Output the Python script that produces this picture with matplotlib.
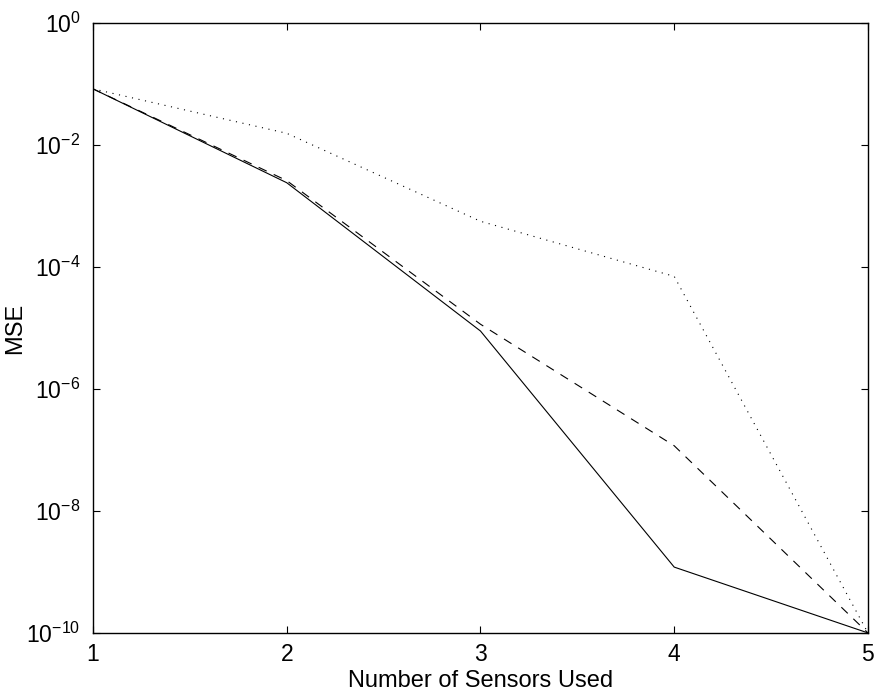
"""MSE versus number of sensors used (log scale)."""

import matplotlib

matplotlib.use("Agg")
import matplotlib.pyplot as plt

sensors = [1, 2, 3, 4, 5]
mse_solid = [8.3e-2, 2.4e-3, 8.9e-6, 1.2e-9, 1e-10]
mse_dashed = [8.3e-2, 2.6e-3, 1.15e-5, 1.17e-7, 1e-10]
mse_dotted = [8.3e-2, 1.55e-2, 5.6e-4, 7.0e-5, 1e-10]

y_ticks = [1e0, 1e-2, 1e-4, 1e-6, 1e-8, 1e-10]
y_tick_labels = [r"$10^{0}$", r"$10^{-2}$", r"$10^{-4}$", r"$10^{-6}$", r"$10^{-8}$", r"$10^{-10}$"]

plt.rcParams["font.family"] = ["Liberation Sans", "DejaVu Sans"]
plt.rcParams["mathtext.fontset"] = "custom"
plt.rcParams["mathtext.rm"] = "Liberation Sans"
plt.rcParams["mathtext.it"] = "Liberation Sans"
plt.rcParams["mathtext.default"] = "regular"

fig = plt.figure(figsize=(8.77, 6.94), dpi=100)
ax = fig.add_axes([0.106, 0.088, 0.8837, 0.879])

ax.semilogy(sensors, mse_solid, color="black", linewidth=0.8, linestyle="-")
ax.semilogy(sensors, mse_dashed, color="black", linewidth=0.8, linestyle=(0, (8, 7)))
ax.semilogy(sensors, mse_dotted, color="black", linewidth=0.8, linestyle=(0, (1, 5)))

ax.set_xlim(1, 5)
ax.set_ylim(1e-10, 1e0)
ax.set_xticks(sensors)
ax.set_xticklabels([str(s) for s in sensors])
ax.set_yticks(y_ticks)
ax.set_yticklabels(y_tick_labels)
ax.minorticks_off()

ax.tick_params(direction="in", length=5, width=0.8, top=True, right=True, labelsize=16.5)
ax.tick_params(axis="x", pad=7)
ax.tick_params(axis="y", pad=9)
for spine in ax.spines.values():
    spine.set_linewidth(1.0)

ax.set_xlabel("Number of Sensors Used", fontsize=17, labelpad=3)
ax.set_ylabel("MSE", fontsize=17)
ax.yaxis.set_label_coords(-0.086, 0.5)

fig.savefig("out.png", dpi=100)
